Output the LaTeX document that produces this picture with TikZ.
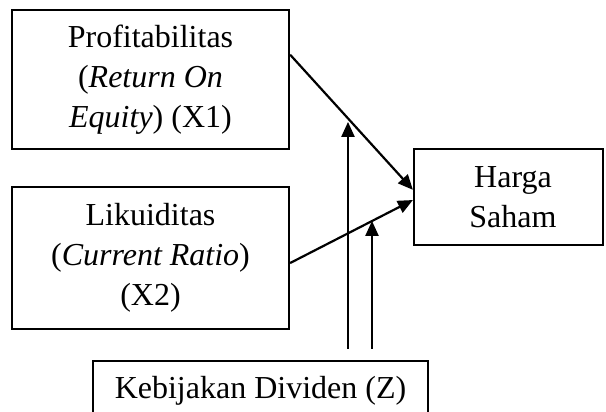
\documentclass[tikz,border=0pt]{standalone}
\usepackage{fontspec}
\setmainfont{Liberation Serif}
\usetikzlibrary{arrows.meta,calc}
\begin{document}
\begin{tikzpicture}[x=0.5pt,y=-0.5pt,
  box/.style={draw,line width=1.1pt,rectangle,inner sep=0pt,align=center,font=\fontsize{16}{20}\selectfont},
  conn/.style={line width=1.1pt,-{Triangle[length=7.5pt,width=6.5pt]}}]
\useasboundingbox (0,0) rectangle (606,412);
\clip (0,0) rectangle (606,412);
\node[box,minimum width=138.5pt,minimum height=69.5pt] (x1) at (150.5,79.5) {Profitabilitas\\ (\textit{Return On}\\ \textit{Equity}) (X1)};
\node[box,minimum width=138.5pt,minimum height=71pt] (x2) at (150.5,258) {Likuiditas\\ (\textit{Current Ratio})\\ (X2)};
\node[box,minimum width=94.5pt,minimum height=48pt] (hs) at (508.5,197) {\hspace*{4.5pt}Harga\\ \hspace*{4.5pt}Saham};
\node[box,minimum width=167.5pt,minimum height=30pt] (kb) at (260.5,391) {Kebijakan Dividen (Z)};
\coordinate (a1) at ($(x1.north east)!0.324!(x1.south east)$);
\coordinate (h1) at ($(hs.north west)!0.427!(hs.south west)$);
\coordinate (a2) at ($(x2.north east)!0.535!(x2.south east)$);
\coordinate (h2) at ($(hs.north west)!0.531!(hs.south west)$);
\draw[conn] (a1) -- (h1);
\draw[conn] (a2) -- (h2);
\coordinate (v1s) at ($(kb.north)+(87.5,-11)$);
\coordinate (v1e) at ($(kb.north)+(87.5,-238)$);
\coordinate (v2s) at ($(kb.north)+(111.5,-11)$);
\coordinate (v2e) at ($(kb.north)+(111.5,-139)$);
\draw[conn] (v1s) -- (v1e);
\draw[conn] (v2s) -- (v2e);
\end{tikzpicture}
\end{document}
